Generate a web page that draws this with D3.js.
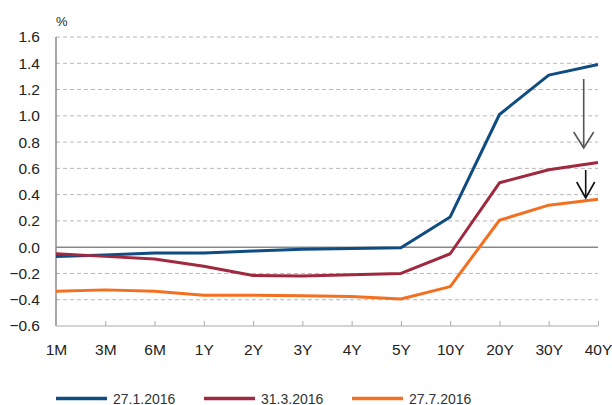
<!DOCTYPE html>
<html>
<head>
<meta charset="utf-8">
<script src="https://cdn.jsdelivr.net/npm/d3@7"></script>
<style>
  body { margin: 0; background: #fff; }
  svg { display: block; font-family: "Liberation Sans", Arial, sans-serif; }
</style>
</head>
<body>
<div class="chart"></div>
<script>
const tenors = ["1M", "3M", "6M", "1Y", "2Y", "3Y", "4Y", "5Y", "10Y", "20Y", "30Y", "40Y"];
const jan = [-0.07, -0.06, -0.045, -0.045, -0.03, -0.015, -0.01, -0.005, 0.23, 1.01, 1.31, 1.39];
const mar = [-0.05, -0.07, -0.09, -0.145, -0.215, -0.22, -0.21, -0.2, -0.05, 0.49, 0.59, 0.645];
const jul = [-0.335, -0.325, -0.335, -0.365, -0.365, -0.37, -0.375, -0.395, -0.3, 0.205, 0.32, 0.365];
const seriesNames = ["27.1.2016", "31.3.2016", "27.7.2016"];
const yTicks = [-0.6, -0.4, -0.2, 0.0, 0.2, 0.4, 0.6, 0.8, 1.0, 1.2, 1.4, 1.6];

const w = 612, h = 405;
const padL = 56, padR = 598, padT = 37, padB = 326;
const colors = ["#0f4c81", "#a0283f", "#f37021"];
const series = [jan, mar, jul];

const svg = d3.select(".chart").append("svg")
    .attr("width", w)
    .attr("height", h);

const x = d3.scalePoint()
    .domain(tenors)
    .range([padL, padR]);
const y = d3.scaleLinear()
    .domain([-0.6, 1.6])
    .range([padB, padT]);

// gridlines
svg.append("g")
    .selectAll("line")
    .data(yTicks.filter(d => d !== 0 && d !== -0.6))
    .enter()
    .append("line")
    .attr("x1", padL)
    .attr("x2", padR)
    .attr("y1", d => y(d))
    .attr("y2", d => y(d))
    .attr("stroke", "#b8b8b8")
    .attr("stroke-dasharray", "4,3");

// y axis labels
const yAxis = d3.axisLeft(y).tickValues(yTicks).tickSize(0).tickPadding(16)
    .tickFormat(d3.format(".1f"));
const yg = svg.append("g")
    .attr("transform", `translate(${padL},0)`)
    .call(yAxis);
yg.select(".domain").remove();
yg.selectAll("text")
    .attr("font-size", 15.5)
    .attr("fill", "#222")
    .attr("font-family", "Liberation Sans, Arial, sans-serif");

// left axis line
svg.append("line")
    .attr("x1", padL).attr("x2", padL)
    .attr("y1", padT).attr("y2", padB)
    .attr("stroke", "#777")
    .attr("stroke-width", 1.3);

// x axis
const xAxis = d3.axisBottom(x).tickSize(-5).tickPadding(18);
const xg = svg.append("g")
    .attr("transform", `translate(0,${padB})`)
    .call(xAxis);
xg.select(".domain").attr("stroke", "#aaa").attr("d", `M${padL},0H${padR}`);
xg.selectAll(".tick line").attr("stroke", "#aaa");
xg.selectAll("text")
    .attr("font-size", 15.5)
    .attr("fill", "#222")
    .attr("font-family", "Liberation Sans, Arial, sans-serif");

// zero line
svg.append("line")
    .attr("x1", padL).attr("x2", padR)
    .attr("y1", y(0)).attr("y2", y(0))
    .attr("stroke", "#888")
    .attr("stroke-width", 1.5);

// unit label
svg.append("text")
    .attr("x", padL)
    .attr("y", 26)
    .attr("font-size", 13)
    .attr("fill", "#222")
    .text("%");

// lines
const line = d3.line()
    .x((d, i) => x(tenors[i]))
    .y(d => y(d));

svg.selectAll(".series")
    .data(series)
    .enter()
    .append("path")
    .attr("class", "series")
    .attr("d", line)
    .attr("fill", "none")
    .attr("stroke", (d, i) => colors[i])
    .attr("stroke-width", 3)
    .attr("stroke-linejoin", "round");

// arrows
const arrows = [
  { x: 583.7, y1: 79, y2: 148, hw: 10, hl: 16, color: "#555" },
  { x: 585.7, y1: 170, y2: 198, hw: 9, hl: 16, color: "#111" }
];
arrows.forEach(a => {
  svg.append("line")
      .attr("x1", a.x).attr("x2", a.x)
      .attr("y1", a.y1).attr("y2", a.y2)
      .attr("stroke", a.color)
      .attr("stroke-width", 1.6);
  svg.append("path")
      .attr("d", `M${a.x - a.hw},${a.y2 - a.hl}L${a.x},${a.y2}L${a.x + a.hw},${a.y2 - a.hl}`)
      .attr("fill", "none")
      .attr("stroke", a.color)
      .attr("stroke-width", 1.6);
});

// legend
const legendX = [56, 204, 352];
const legend = svg.append("g")
    .selectAll("g")
    .data(seriesNames)
    .enter()
    .append("g")
    .attr("transform", (d, i) => `translate(${legendX[i]},398.5)`);
legend.append("line")
    .attr("x1", 0).attr("x2", 51)
    .attr("stroke", (d, i) => colors[i])
    .attr("stroke-width", 3.5);
legend.append("text")
    .attr("x", 57)
    .attr("y", 5)
    .attr("font-size", 14)
    .attr("fill", "#333")
    .text(d => d);
</script>
</body>
</html>
